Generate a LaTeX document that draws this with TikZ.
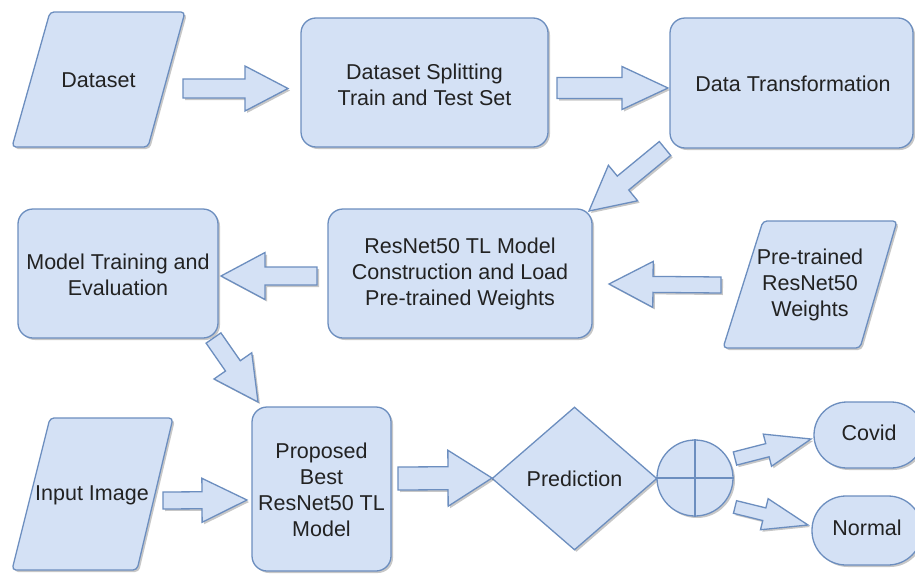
\documentclass[tikz,border=0pt]{standalone}
\usepackage{fontspec}
\setmainfont{Liberation Sans}
\usetikzlibrary{calc,shapes.geometric,shadows}
\definecolor{bfill}{HTML}{D4E1F5}
\definecolor{bline}{HTML}{6C8EBF}
\definecolor{btext}{HTML}{222222}
\tikzset{
  shad/.style={drop shadow={shadow xshift=2pt,shadow yshift=-2pt,opacity=0.22,fill=black}},
  base/.style={draw=bline,fill=bfill,line width=1.3pt,shad},
  box/.style={base,rounded corners=15pt,align=center,inner sep=0pt,text=btext},
  para/.style={base,rounded corners=4pt},
  lbl/.style={align=center,text=btext,inner sep=0pt},
  fatarr/.style={base,line join=miter},
}
% #1 tail, #2 tip, #3 shaft half width, #4 head half width, #5 head length
\newcommand\fatarrow[5]{%
  \draw[fatarr] let \p1=(#1), \p2=(#2),
    \n1={atan2(\y2-\y1,\x2-\x1)}, \n2={veclen(\x2-\x1,\y2-\y1)-#5} in
    ($(\p1)+({\n1+90}:{#3*1pt})$)
    -- ($(\p1)+({\n1+90}:{#3*1pt})+(\n1:{\n2*1pt})$)
    -- ($(\p1)+({\n1+90}:{#4*1pt})+(\n1:{\n2*1pt})$)
    -- (\p2)
    -- ($(\p1)+({\n1-90}:{#4*1pt})+(\n1:{\n2*1pt})$)
    -- ($(\p1)+({\n1-90}:{#3*1pt})+(\n1:{\n2*1pt})$)
    -- ($(\p1)+({\n1-90}:{#3*1pt})$) -- cycle;}
\begin{document}
\begin{tikzpicture}[x=1pt,y=-1pt,font=\fontsize{21.5}{26}\selectfont]
\useasboundingbox (0,0) rectangle (915,573);
\fill[white] (0,0) rectangle (915,573);
\begin{scope}
\clip (0,0) rectangle (915,573);
% parallelograms
\draw[para] (50,12) -- (185,12) -- (148,147) -- (12,147) -- cycle;
\node[lbl] (dataset) at (98.5,80) {Dataset};
\draw[para] (763,221) -- (897,221) -- (860,348) -- (723,348) -- cycle;
\node[lbl] (pretr) at (810,284.5) {Pre-trained\\ResNet50\\Weights};
\draw[para] (50,418) -- (173,418) -- (137,570) -- (12,570) -- cycle;
\node[lbl] (input) at (92,495) {Input Image};
% boxes
\node[box,minimum width=247pt,minimum height=129pt] (split) at (424.5,82.5) {};
\node[lbl] at (424.5,85) {Dataset Splitting\\Train and Test Set};
\node[box,minimum width=243pt,minimum height=130pt] (trans) at (791.5,83) {};
\node[lbl] at (793,84) {Data Transformation};
\node[box,minimum width=264pt,minimum height=129pt] (resnet) at (460,273.5) {};
\node[lbl] at (460,274) {ResNet50 TL Model\\Construction and Load\\Pre-trained Weights};
\node[box,minimum width=200pt,minimum height=129pt] (train) at (118,273.5) {};
\node[lbl] at (118,275) {Model Training and\\Evaluation};
\node[box,minimum width=139pt,minimum height=164pt] (prop) at (321.5,489) {};
\node[lbl] at (321.5,490) {Proposed\\Best\\ResNet50 TL\\Model};
% decision
\node[base,shape=diamond,aspect=1.15,inner sep=0pt,minimum width=165pt,minimum height=143pt] (pred) at (574.5,478.5) {};
\node[lbl] at (574.5,479) {Prediction};
\node[base,circle,minimum size=76pt,inner sep=0pt] (circ) at (695,478) {};
\draw[bline,line width=1.1pt] (circ.north) -- (circ.south) (circ.west) -- (circ.east);
% outcomes
\node[base,rounded corners=33pt,minimum width=110pt,minimum height=66pt,inner sep=0pt] (covid) at (869,435) {};
\node[lbl] at (869,433) {Covid};
\node[base,rounded corners=34pt,minimum width=110pt,minimum height=69pt,inner sep=0pt] (normal) at (867,530.5) {};
\node[lbl] at (867,528) {Normal};
% arrow end points
\coordinate (a1s) at (183,88.5);  \coordinate (a1e) at (288,88.5);
\coordinate (a2s) at (557,88);    \coordinate (a2e) at (668,88);
\coordinate (a3s) at (665,148.5); \coordinate (a3e) at (589,211);
\coordinate (a4s) at (317,276);   \coordinate (a4e) at (221,276);
\coordinate (a5s) at (721,285);   \coordinate (a5e) at (609,284);
\coordinate (a6s) at (213.5,338); \coordinate (a6e) at (258,402);
\coordinate (a7s) at (163,500.5); \coordinate (a7e) at (247,500);
\coordinate (a8s) at (398,478.5); \coordinate (a8e) at (492,478);
\coordinate (a9s) at (735,458.5); \coordinate (a9e) at (811,439);
\coordinate (a10s) at (735,507);  \coordinate (a10e) at (808,525);
\fatarrow{a1s}{a1e}{9.5}{22.5}{43}
\fatarrow{a2s}{a2e}{10.5}{21.5}{46}
\fatarrow{a3s}{a3e}{9}{23}{44}
\fatarrow{a4s}{a4e}{9}{23.5}{44}
\fatarrow{a5s}{a5e}{8}{23}{44}
\fatarrow{a6s}{a6e}{9}{23}{44}
\fatarrow{a7s}{a7e}{8.5}{22}{45}
\fatarrow{a8s}{a8e}{11.5}{28}{44}
\fatarrow{a9s}{a9e}{6.8}{16.6}{45}
\fatarrow{a10s}{a10e}{6.5}{16}{45}
\end{scope}
\end{tikzpicture}
\end{document}
